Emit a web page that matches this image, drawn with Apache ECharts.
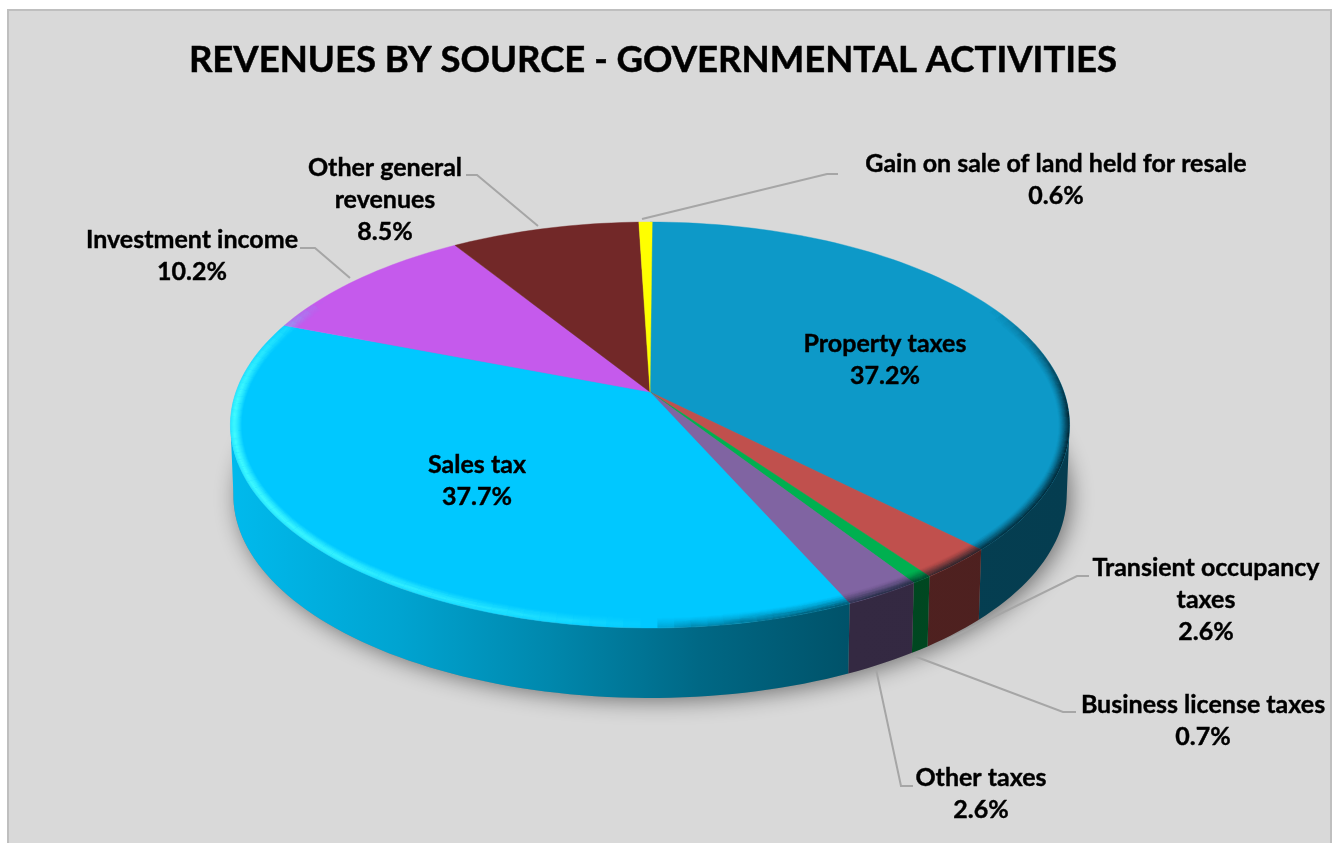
<!DOCTYPE html>
<html>
<head>
<meta charset="utf-8">
<title>Revenues by source</title>
<script src="https://cdn.jsdelivr.net/npm/echarts@6/dist/echarts.min.js"></script>
<style>
  html, body { margin: 0; padding: 0; background: #fff; }
  #chart { width: 1333px; height: 843px; }
</style>
</head>
<body>
<div id="chart"></div>
<script>
// chart data, clockwise from 12 o'clock
const categories = ['Property taxes', 'Transient occupancy\ntaxes', 'Business license taxes', 'Other taxes',
  'Sales tax', 'Investment income', 'Other general\nrevenues', 'Gain on sale of land held for resale']
const shares = [37.2, 2.6, 0.7, 2.6, 37.7, 10.2, 8.5, 0.6]
const colors = ['#0d99c8', '#c0504d', '#00b050', '#8064a2', '#00c8ff', '#c55aec', '#722828', '#ffff00']

// label anchors and leader lines (pixels), same order as categories
const labelAt = [[885, 344], [1206, 568], [1203, 705], [981, 778], [477, 465], [192, 240], [385, 168], [1056, 164]]
const leaders = [
  null,
  [[1089, 576], [1077, 576], [947, 640]],
  [[1076, 712], [1063, 712], [914, 656]],
  [[913, 786], [901, 786], [876, 669]],
  null,
  [[300, 248], [315, 248], [350, 278]],
  [[466, 175], [477, 175], [538, 226]],
  [[838, 174], [827, 174], [642, 219]]
]

// perspective of the disc: apex, half axes, tilt and wall height
const cx = 650
const cy = 392
const R = 414
const B = 197.6
const K = 0.1626
const WALL = 70
const RIM_CY = 425
const RIM_RX = 419
const RIM_RY = 203
const BEVEL = 11
const FONT = 'Lato, "Open Sans", sans-serif'
const RAD = Math.PI / 180

function project (deg, r, dy, sx) {
  // the right front of the disc sits a little further round than a plain projection
  let t = (deg + (deg < 180 ? 1.4 * Math.sin(deg * RAD) : 0)) * RAD
  let u = Math.sin(t) * r
  let v = -Math.cos(t) * r
  let d = 1 - K * v
  return [cx + R * u / d * (sx || 1), cy + B * v / d + (dy || 0)]
}

function arc (from, to, r, dy, sx) {
  let pts = []
  let n = Math.max(2, Math.ceil((to - from) / 1.5))
  for (let i = 0; i <= n; i++) {
    pts.push(project(from + (to - from) * i / n, r, dy, sx))
  }
  return pts
}

// point on the rim pulled inwards by px pixels
function inset (deg, px) {
  let p = project(deg, 1)
  return [cx + (p[0] - cx) * (1 - px / RIM_RX), RIM_CY + (p[1] - RIM_CY) * (1 - px / RIM_RY)]
}

function shade (hex, f) {
  let c = echarts.color.parse(hex)
  return 'rgb(' + Math.round(c[0] * f) + ',' + Math.round(c[1] * f) + ',' + Math.round(c[2] * f) + ')'
}

// side wall gets darker from left to right
function wallFill (hex) {
  let stops = [[0, 0.93], [0.2, 0.82], [0.38, 0.68], [0.56, 0.52], [0.74, 0.41], [1, 0.4]]
  return {
    type: 'linear',
    global: true,
    x: 230,
    y: 0,
    x2: 1068,
    y2: 0,
    colorStops: stops.map(function (s) {
      return { offset: s[0], color: shade(hex, s[1]) }
    })
  }
}

// rounded edge: light on the left, dark on the right, gone towards the back
function bevelColor (deg, depth) {
  let fade = Math.min(1, Math.max(0, Math.min(deg - 62, 300 - deg) / 32))
  let x = (Math.sin(deg * RAD) + 1) / 2
  if (x < 0.5) {
    // highlight peaks a few pixels inside the edge
    let prof = depth < 0.3 ? 0.6 + 1.33 * depth : Math.max(0, 1 - (depth - 0.3) / 0.7)
    let a = Math.pow((0.5 - x) / 0.5, 0.7)
    return 'rgba(70,255,255,' + (0.95 * a * prof * fade).toFixed(3) + ')'
  }
  let b = Math.pow((x - 0.5) / 0.5, 0.5)
  return 'rgba(0,25,35,' + (0.85 * b * Math.pow(1 - depth, 1.5) * fade).toFixed(3) + ')'
}

let starts = []
let sum = 0
shares.forEach(function (s) {
  starts.push(sum / 100 * 360)
  sum += s
})

function renderSlice (params, api) {
  let i = params.dataIndex
  let from = starts[i]
  let to = from + api.value(0) / 100 * 360
  let children = []

  // wall, only the part facing the viewer
  let a = Math.max(from, 99)
  let b = Math.min(to, 261)
  if (b > a) {
    let top = arc(a, b, 1, 0, 1)
    let bottom = arc(a, b, 1, WALL, 0.993).reverse()
    children.push({
      type: 'polygon',
      shape: { points: top.concat(bottom) },
      style: { fill: wallFill(colors[i]) }
    })
  }

  // top face
  children.push({
    type: 'polygon',
    shape: { points: [[cx, cy]].concat(arc(from, to, 1)) },
    style: { fill: colors[i], stroke: colors[i], lineWidth: 0.4 }
  })

  // bevel, ring by ring
  let rings = 11
  for (let k = 0; k < rings; k++) {
    let px = BEVEL * (k + 0.5) / rings
    let n = Math.max(1, Math.ceil((to - from) / 2))
    for (let j = 0; j < n; j++) {
      let d0 = from + (to - from) * j / n
      let d1 = from + (to - from) * (j + 1) / n
      let col = bevelColor((d0 + d1) / 2, k / rings)
      if (parseFloat(col.split(',')[3]) < 0.01) continue
      children.push({
        type: 'polyline',
        shape: { points: [inset(d0, px), inset(d1, px)] },
        style: { fill: null, stroke: col, lineWidth: BEVEL / rings + 0.3 }
      })
    }
  }

  return { type: 'group', children: children }
}

function renderShadow () {
  return {
    type: 'polygon',
    shape: { points: arc(0, 360, 1, WALL, 0.993) },
    style: {
      fill: '#8a8a8a',
      shadowBlur: 22,
      shadowColor: 'rgba(0,0,0,0.48)',
      shadowOffsetX: 4,
      shadowOffsetY: 3
    }
  }
}

function renderLabel (params, api) {
  let i = params.dataIndex
  let children = []
  if (leaders[i]) {
    children.push({
      type: 'polyline',
      shape: { points: leaders[i] },
      style: { fill: null, stroke: '#a6a6a6', lineWidth: 2 }
    })
  }
  children.push({
    type: 'text',
    x: labelAt[i][0],
    y: labelAt[i][1] - 16,
    style: {
      text: categories[i] + '\n' + api.value(0).toFixed(1) + '%',
      font: 'bold 25px ' + FONT,
      fill: '#000',
      stroke: '#000',
      lineWidth: 0.4,
      align: 'center',
      verticalAlign: 'top',
      lineHeight: 32
    }
  })
  return { type: 'group', children: children }
}

let myChart = echarts.init(document.getElementById('chart'), null, { renderer: 'canvas' })
myChart.setOption({
  animation: false,
  backgroundColor: '#fff',
  title: {
    text: 'REVENUES BY SOURCE - GOVERNMENTAL ACTIVITIES',
    left: 648,
    top: 37,
    textAlign: 'center',
    textStyle: {
      fontFamily: FONT,
      fontWeight: 'bold',
      fontSize: 36.5,
      color: '#000',
      textBorderColor: '#000',
      textBorderWidth: 0.5
    }
  },
  graphic: [{
    type: 'rect',
    z: -10,
    silent: true,
    shape: { x: 8, y: 10, width: 1323, height: 850 },
    style: { fill: '#d9d9d9', stroke: '#bfbfbf', lineWidth: 2 }
  }],
  series: [
    { type: 'custom', coordinateSystem: 'none', silent: true, z: 1, clip: false, renderItem: renderShadow, data: [0] },
    { type: 'custom', coordinateSystem: 'none', silent: true, z: 2, clip: false, renderItem: renderSlice, data: shares },
    { type: 'custom', coordinateSystem: 'none', silent: true, z: 3, clip: false, renderItem: renderLabel, data: shares }
  ]
})
</script>
</body>
</html>
